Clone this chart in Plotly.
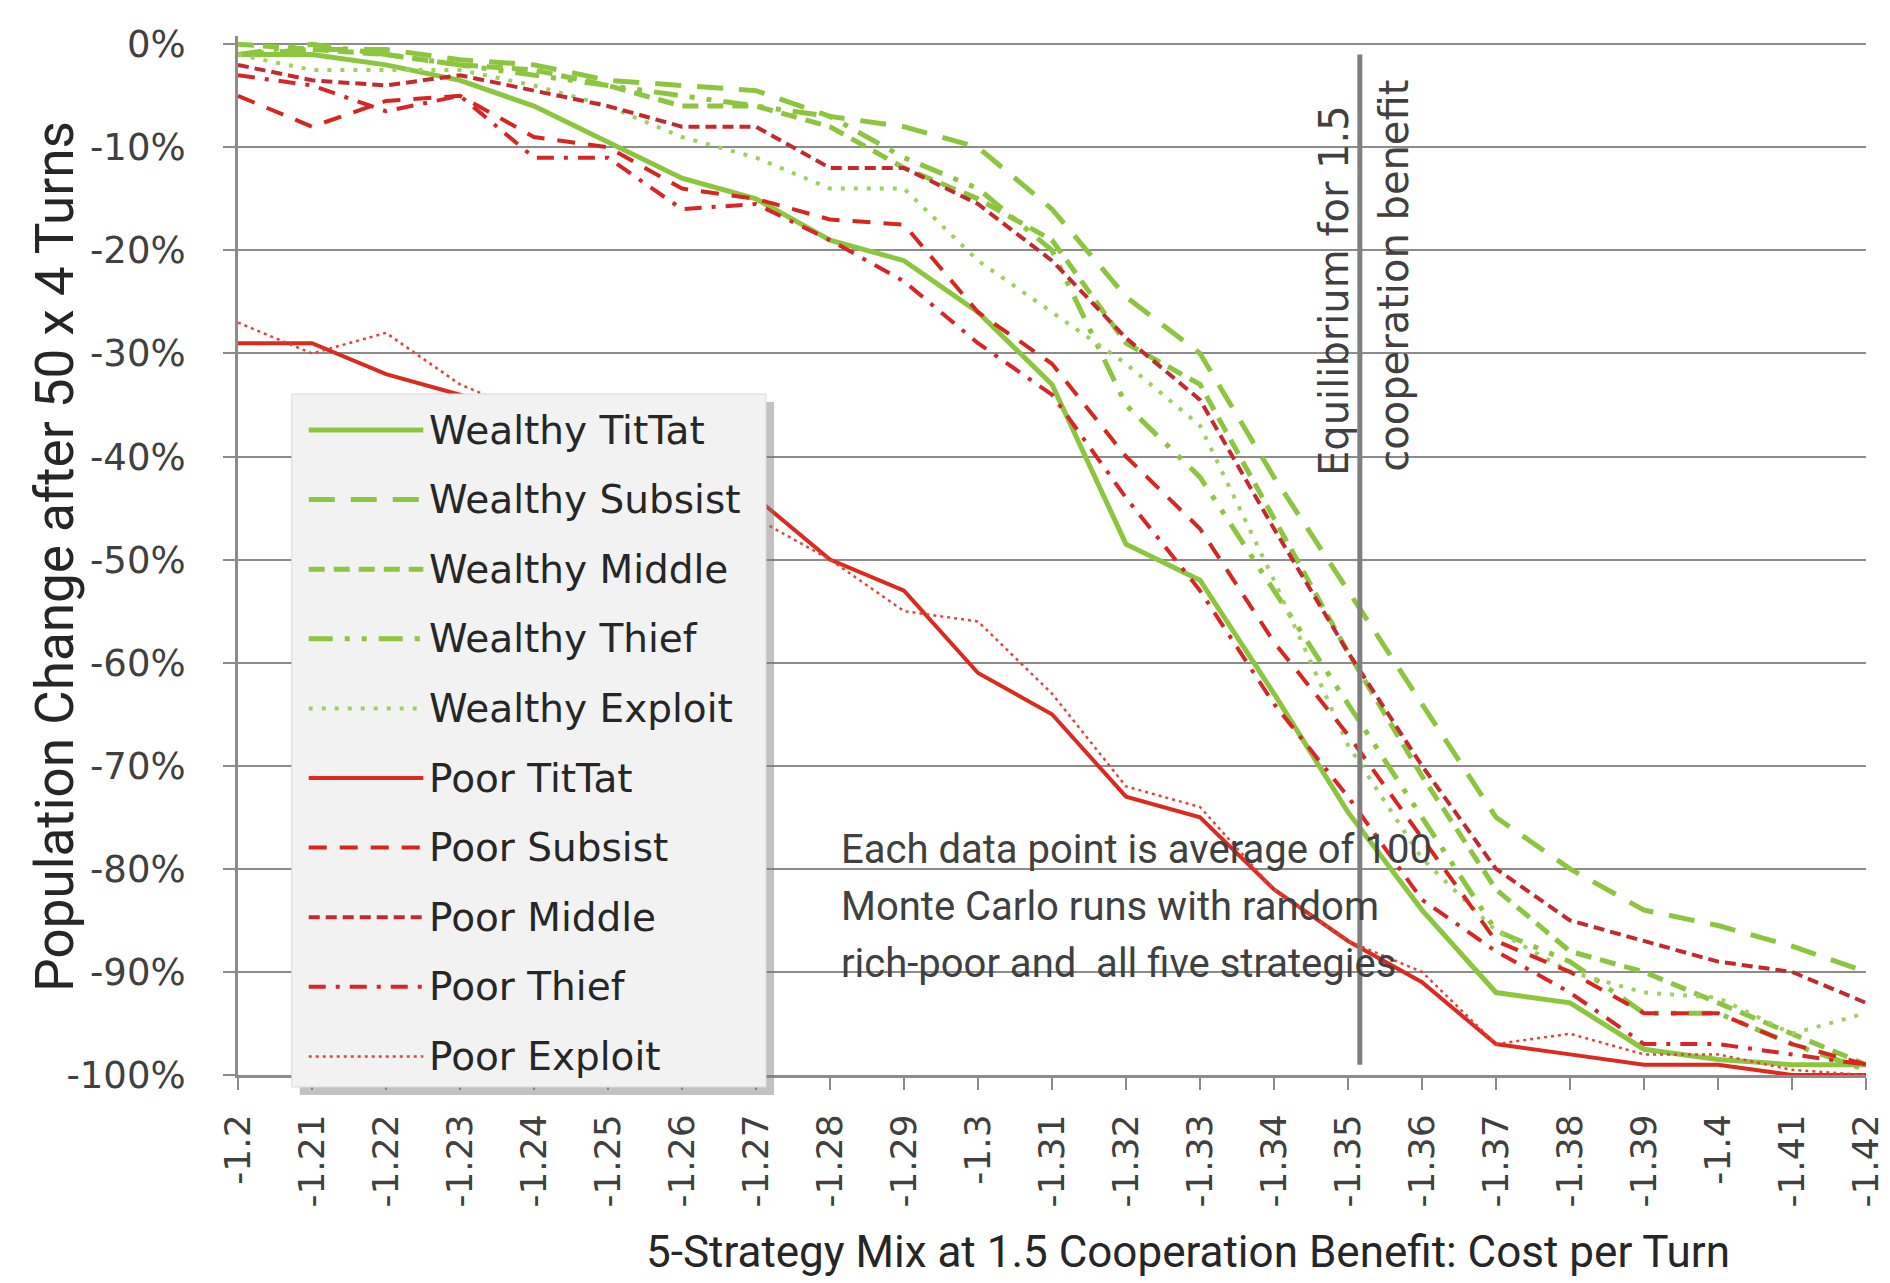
import plotly.graph_objects as go

# cost per turn (x axis) and its tick labels as Excel printed them
cost = [-1.20, -1.21, -1.22, -1.23, -1.24, -1.25, -1.26, -1.27, -1.28, -1.29, -1.30, -1.31,
        -1.32, -1.33, -1.34, -1.35, -1.36, -1.37, -1.38, -1.39, -1.40, -1.41, -1.42]
x_labels = ["-1.2", "-1.21", "-1.22", "-1.23", "-1.24", "-1.25", "-1.26", "-1.27", "-1.28",
            "-1.29", "-1.3", "-1.31", "-1.32", "-1.33", "-1.34", "-1.35", "-1.36", "-1.37",
            "-1.38", "-1.39", "-1.4", "-1.41", "-1.42"]
y_ticks = [0, -10, -20, -30, -40, -50, -60, -70, -80, -90, -100]
y_labels = ["0%", "-10%", "-20%", "-30%", "-40%", "-50%", "-60%", "-70%", "-80%", "-90%", "-100%"]

# population change in %
wealthy_tittat = [-1, -1, -2, -3.5, -6, -9.5, -13, -15, -19, -21, -26, -33, -48.5, -52, -63, -74.5,
                  -84, -92, -93, -97.5, -98.5, -99, -99]
wealthy_subsist = [-1, -0.5, -0.5, -1.5, -2, -3.5, -4, -4.5, -7, -8, -10, -16, -24.5, -30, -42, -53,
                   -64, -75, -80, -84, -85.5, -87.5, -90]
wealthy_middle = [0, -0.5, -1, -2, -2.5, -4, -6, -6, -8, -12, -15, -19, -29, -33, -46, -59,
                  -71, -82, -88, -90, -93, -96, -99]
wealthy_thief = [-1, 0, -1, -2, -3, -4, -5, -6, -7, -11, -14, -20, -35, -42, -53, -64,
                 -75, -86, -89, -94, -94, -97, -99.5]
wealthy_exploit = [-1, -2.5, -2.5, -2.5, -4, -6, -9, -11, -14, -14, -21, -26, -31, -37, -52, -68,
                   -79, -86, -90, -92, -92.5, -96, -94]
poor_tittat = [-29, -29, -32, -34, -36.5, -39, -41.5, -44, -50, -53, -61, -65, -73, -75, -82, -87,
               -91, -97, -98, -99, -99, -100, -100]
poor_subsist = [-5, -8, -5.5, -5, -9, -10, -14, -15, -17, -17.5, -26, -31, -40, -47, -58, -67,
                -77, -87, -90, -94, -94, -97, -99]
poor_middle = [-2, -3.5, -4, -3, -4.5, -6, -8, -8, -12, -12, -15.5, -21, -28.5, -34.5, -47, -59,
               -70, -80, -85, -87, -89, -90, -93]
poor_thief = [-3, -4, -6.5, -5, -11, -11, -16, -15.5, -19, -23, -29, -34, -44, -53, -64, -73,
              -83, -88, -92, -97, -97, -98, -99]
poor_exploit = [-27, -30, -28, -33, -36, -39, -42, -46, -50, -55, -56, -63, -72, -74, -82, -87,
                -90, -97, -96, -98, -98, -99.5, -100]

equilibrium_cost = -1.3516

GREEN = "#8cc63f"
series = [
    ("Wealthy TitTat", wealthy_tittat, GREEN, 5, "solid"),
    ("Wealthy Subsist", wealthy_subsist, GREEN, 5, "26px,16px"),
    ("Wealthy Middle", wealthy_middle, GREEN, 5, "16px,9px"),
    ("Wealthy Thief", wealthy_thief, GREEN, 5, "24px,12px,5px,12px,5px,12px"),
    ("Wealthy Exploit", wealthy_exploit, "#9fd063", 4, "4px,9px"),
    ("Poor TitTat", poor_tittat, "#dc2a1e", 4, "solid"),
    ("Poor Subsist", poor_subsist, "#d6261f", 4, "18px,13px"),
    ("Poor Middle", poor_middle, "#c22a30", 4, "11px,6px"),
    ("Poor Thief", poor_thief, "#da2428", 4, "17px,10px,4px,10px"),
    ("Poor Exploit", poor_exploit, "#e0453c", 2.5, "3px,4px"),
]

W, H = 1890, 1283
L, R, T, B = 230, 26, 28, 216
plot_w = W - L - R
plot_h = H - T - B


def px_x(px):
    return (px - L) / plot_w


def px_y(py):
    return (H - B - py) / plot_h


fig = go.Figure()
for name, vals, color, width, dash in series:
    fig.add_trace(go.Scatter(x=cost, y=vals, mode="lines", name=name, showlegend=False,
                             line=dict(color=color, width=width, dash=dash)))

shapes = []
annotations = []

# equilibrium marker
shapes.append(dict(type="line", xref="x", yref="y", x0=equilibrium_cost, x1=equilibrium_cost,
                   y0=-1, y1=-99, line=dict(color="#7f7f7f", width=5), layer="above"))
annotations.append(dict(text="Equilibrium for 1.5", xref="paper", yref="paper",
                        x=px_x(1330), y=px_y(282), textangle=-90, showarrow=False,
                        xanchor="center", yanchor="middle",
                        font=dict(family="DejaVu Sans", size=40, color="#404040")))
annotations.append(dict(text="cooperation benefit", xref="paper", yref="paper",
                        x=px_x(1390), y=px_y(268), textangle=-90, showarrow=False,
                        xanchor="center", yanchor="middle",
                        font=dict(family="DejaVu Sans", size=40, color="#404040")))

# note text
note = ["Each data point is average of 100", "Monte Carlo runs with random",
        "rich-poor and  all five strategies"]
for k, line in enumerate(note):
    annotations.append(dict(text=line, xref="paper", yref="paper", x=px_x(833),
                            y=px_y(841 + 57 * k), xanchor="left", yanchor="middle",
                            showarrow=False,
                            font=dict(family="Roboto", size=40, color="#404040")))

# hand-built legend box with shadow
lx0, lx1, ly0, ly1 = 284, 760, 386, 1079
shapes.append(dict(type="rect", xref="paper", yref="paper", x0=px_x(lx0 + 8), x1=px_x(lx1 + 8),
                   y0=px_y(ly0 + 8), y1=px_y(ly1 + 8), fillcolor="rgba(120,120,120,0.45)",
                   line=dict(width=0), layer="above"))
shapes.append(dict(type="rect", xref="paper", yref="paper", x0=px_x(lx0), x1=px_x(lx1),
                   y0=px_y(ly0), y1=px_y(ly1), fillcolor="#f2f2f2",
                   line=dict(color="#d9d9d9", width=1), layer="above"))
for k, (name, vals, color, width, dash) in enumerate(series):
    ry = 422 + 69.6 * k
    shapes.append(dict(type="line", xref="paper", yref="paper", x0=px_x(301), x1=px_x(416),
                       y0=px_y(ry), y1=px_y(ry), layer="above",
                       line=dict(color=color, width=width, dash=dash)))
    annotations.append(dict(text=name, xref="paper", yref="paper", x=px_x(420), y=px_y(ry),
                            xanchor="left", yanchor="middle", showarrow=False,
                            font=dict(family="DejaVu Sans", size=39, color="#262626")))

# axis titles
annotations.append(dict(text="Population Change after 50 x 4 Turns", xref="paper", yref="paper",
                        x=px_x(46), y=px_y(548), textangle=-90, showarrow=False,
                        xanchor="center", yanchor="middle",
                        font=dict(family="Roboto", size=53, color="#262626")))
annotations.append(dict(text="5-Strategy Mix at 1.5 Cooperation Benefit: Cost per Turn",
                        xref="paper", yref="paper", x=px_x(1184), y=px_y(1244),
                        showarrow=False, xanchor="center", yanchor="middle",
                        font=dict(family="Roboto", size=44, color="#262626")))

fig.update_layout(
    width=W, height=H,
    margin=dict(l=L, r=R, t=T, b=B),
    paper_bgcolor="white", plot_bgcolor="white",
    shapes=shapes, annotations=annotations,
    showlegend=False,
)
fig.update_xaxes(range=[-1.2, -1.42], tickvals=cost, ticktext=x_labels, tickangle=-90,
                 ticks="outside", ticklen=12, tickwidth=2, tickcolor="#8c8c8c",
                 showline=True, linecolor="#8c8c8c", linewidth=3, showgrid=False,
                 zeroline=False, ticklabelstandoff=10,
                 tickfont=dict(family="DejaVu Sans", size=36, color="#404040"))
fig.update_yaxes(range=[-100, 0.8], tickvals=y_ticks, ticktext=y_labels,
                 ticks="outside", ticklen=12, tickwidth=2, tickcolor="#8c8c8c",
                 showline=True, linecolor="#8c8c8c", linewidth=3,
                 showgrid=True, gridcolor="#8c8c8c", gridwidth=2, zeroline=False,
                 ticklabelstandoff=30,
                 tickfont=dict(family="DejaVu Sans", size=37, color="#404040"))

fig.write_html("out.html")
